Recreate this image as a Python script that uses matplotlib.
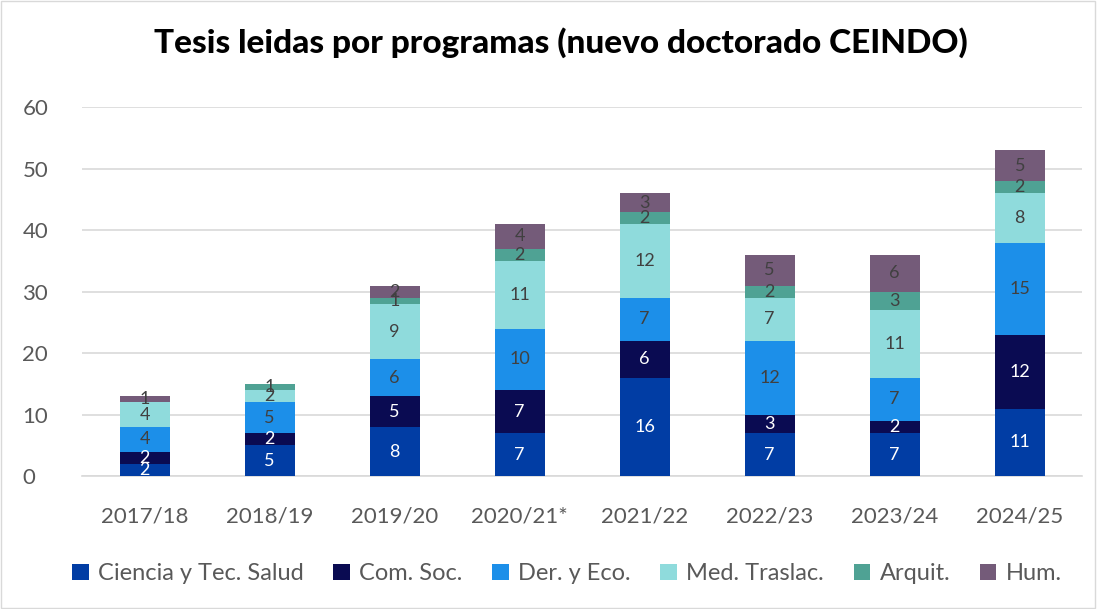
import matplotlib.pyplot as plt
import numpy as np

plt.rcParams["font.family"] = ["Lato", "DejaVu Sans"]

years = ["2017/18", "2018/19", "2019/20", "2020/21*", "2021/22", "2022/23", "2023/24", "2024/25"]
programs = ["Ciencia y Tec. Salud", "Com. Soc.", "Der. y Eco.", "Med. Traslac.", "Arquit.", "Hum."]

ciencia = [2, 5, 8, 7, 16, 7, 7, 11]
com_soc = [2, 2, 5, 7, 6, 3, 2, 12]
der_eco = [4, 5, 6, 10, 7, 12, 7, 15]
med_traslac = [4, 2, 9, 11, 12, 7, 11, 8]
arquit = [0, 1, 1, 2, 2, 2, 3, 2]
hum = [1, 0, 2, 4, 3, 5, 6, 5]

series = [ciencia, com_soc, der_eco, med_traslac, arquit, hum]
colors = ["#013DA4", "#0A0B52", "#1C8FE9", "#8FDBDC", "#4FA294", "#745B79"]
text_colors = ["white", "white", "#404040", "#404040", "#404040", "#404040"]

fig = plt.figure(figsize=(11.01, 6.09), dpi=100)
ax = fig.add_axes([0.0745, 0.218, 0.9085, 0.606])

x = np.arange(len(years))
bottom = np.zeros(len(years))
for vals, color, tcol, name in zip(series, colors, text_colors, programs):
    vals = np.array(vals, dtype=float)
    ax.bar(x, vals, width=0.4, bottom=bottom, color=color, label=name, zorder=3)
    for xi, b, v in zip(x, bottom, vals):
        if v > 0:
            ax.text(xi, b + v / 2, f"{int(v)}", ha="center", va="center",
                    fontsize=13, color=tcol, zorder=4)
    bottom += vals

ax.set_xlim(-0.5, len(years) - 0.5)
ax.set_ylim(0, 60)
ax.set_yticks(range(0, 61, 10))
ax.set_xticks(x)
ax.set_xticklabels(years)
ax.tick_params(axis="both", length=0, labelsize=16, colors="#595959")
ax.tick_params(axis="x", pad=22)
ax.tick_params(axis="y", pad=43)
for lbl in ax.get_yticklabels():
    lbl.set_horizontalalignment("left")
ax.grid(axis="y", color="#D9D9D9", linewidth=1.2, zorder=0)
for side in ["top", "right", "left"]:
    ax.spines[side].set_visible(False)
ax.spines["bottom"].set_color("#D9D9D9")
ax.spines["bottom"].set_linewidth(1.2)

fig.suptitle("Tesis leidas por programas (nuevo doctorado CEINDO)",
             x=0.509, y=0.955, fontsize=24, fontweight="black", color="black")

leg = fig.legend(loc="center", bbox_to_anchor=(0.515, 0.058), ncol=6, frameon=False,
                 fontsize=17, handlelength=0.7, handleheight=0.7,
                 handletextpad=0.4, columnspacing=1.25)
for t in leg.get_texts():
    t.set_color("#595959")

fig.patches.append(plt.Rectangle((0.001, 0.001), 0.994, 0.997, transform=fig.transFigure,
                                 fill=False, edgecolor="#D9D9D9", linewidth=1))

fig.savefig("out.png", dpi=100)
